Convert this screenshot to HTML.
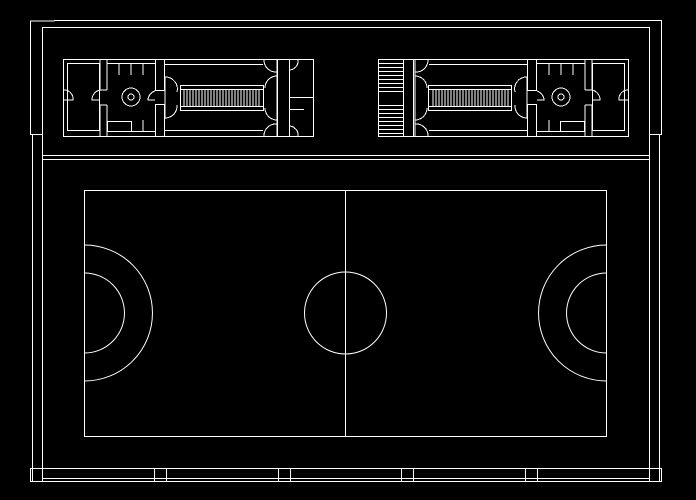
<!DOCTYPE html>
<html><head><meta charset="utf-8"><style>
html,body{margin:0;padding:0;background:#000;width:696px;height:500px;overflow:hidden}
svg{display:block}
</style></head><body>
<svg width="696" height="500" viewBox="0 0 696 500" xmlns="http://www.w3.org/2000/svg" fill="none" stroke="#fff" stroke-width="1" shape-rendering="crispEdges">
<defs>
<g id="plan">
  <!-- outer outline -->
  <rect x="63.5" y="59.5" width="250" height="77"/>
  <!-- toilet -->
  <rect x="67.5" y="63.5" width="32" height="67"/>
  <line x1="100" y1="60" x2="100" y2="90"/><line x1="107" y1="60" x2="107" y2="90"/>
  <line x1="100" y1="105" x2="100" y2="136"/><line x1="107" y1="105" x2="107" y2="136"/>
  <line x1="100" y1="90" x2="107" y2="90"/><line x1="100" y1="105" x2="107" y2="105"/>
  <path d="M63 90 A9 9 0 0 1 73 100 L63 100" stroke-width="1"/>
  <path d="M100 90 A10 10 0 0 0 92 100 L100 100"/>
  <!-- lobby -->
  <line x1="107" y1="63.5" x2="155" y2="63.5"/><line x1="107" y1="131.5" x2="155" y2="131.5"/>
  <line x1="119" y1="64" x2="119" y2="75"/><line x1="131" y1="64" x2="131" y2="75"/><line x1="143" y1="64" x2="143" y2="75"/>
  <rect x="107.5" y="121.5" width="24" height="10"/>
  <line x1="143" y1="120" x2="143" y2="131"/>
  <circle cx="131" cy="97" r="9"/><circle cx="131" cy="97" r="3"/>
  <!-- wall between lobby and stair hall -->
  <rect x="155.5" y="59.5" width="9" height="31"/>
  <rect x="155.5" y="104.5" width="9" height="32"/>
  <path d="M155 91 A10 10 0 0 0 148 100 L155 100"/>
  <path d="M165 77 A12 12 0 0 1 177 92 M165 118 A12 12 0 0 0 177 105"/>
  <line x1="165" y1="77" x2="165" y2="118"/>
  <!-- stair hall walls -->
  <line x1="165" y1="64.5" x2="263" y2="64.5"/>
  <line x1="165" y1="130.5" x2="263" y2="130.5"/>
  <!-- stair -->
  <rect x="180.5" y="85.5" width="83" height="25"/>
  <rect x="180.5" y="89.5" width="83" height="17"/>
  <path d="M184 90v16M187 90v16M190 90v16M193 90v16M196 90v16M199 90v16M202 90v16M205 90v16M208 90v16M211 90v16M214 90v16M217 90v16M220 90v16M223 90v16M226 90v16M229 90v16M232 90v16M235 90v16M238 90v16M241 90v16M244 90v16M247 90v16M250 90v16M253 90v16M256 90v16M259 90v16"/>
  <!-- doors near column -->
  <path d="M264 60 A12 12 0 0 0 277 72 M264 137 A12 12 0 0 1 277 124 M277 76 A12 12 0 0 0 265 88 M277 120 A12 12 0 0 1 265 108"/>
  <line x1="277" y1="59" x2="277" y2="137"/>
</g>
</defs>

<!-- outer frame top -->
<line x1="54" y1="20.5" x2="638" y2="20.5"/>
<line x1="42" y1="27.5" x2="650" y2="27.5"/>
<polyline points="54,20.5 54,21 30.5,21 30.5,134.5 42,134.5"/>
<polyline points="638,20.5 661.5,20.5 661.5,134.5 650,134.5"/>
<line x1="42.5" y1="27" x2="42.5" y2="470"/>
<line x1="649.5" y1="27" x2="649.5" y2="470"/>
<line x1="32.5" y1="134" x2="32.5" y2="482"/>
<line x1="659.5" y1="134" x2="659.5" y2="482"/>
<line x1="42" y1="155.5" x2="650" y2="155.5"/>
<line x1="42" y1="159.5" x2="650" y2="159.5"/>

<!-- floor plans -->
<use href="#plan"/>
<!-- left column part -->
<rect x="277.5" y="59.5" width="12" height="77"/>
<line x1="289" y1="97.5" x2="313" y2="97.5"/>
<line x1="289" y1="109.5" x2="304" y2="109.5"/>
<path d="M289 70 A9 9 0 0 0 298 60 M289 126 A9 9 0 0 1 298 136"/>

<g transform="translate(692,0) scale(-1,1)"><use href="#plan"/></g>
<rect x="403.5" y="59.5" width="10" height="77"/>
<rect x="378.5" y="59.5" width="25" height="77"/>
<path d="M379 63.5h24M379 67.5h24M379 71.5h24M379 75.5h24M379 79.5h24M379 83.5h24M379 87.5h24M379 91.5h24M379 105.5h24M379 109.5h24M379 113.5h24M379 117.5h24M379 121.5h24M379 125.5h24M379 129.5h24M379 133.5h24"/>

<!-- court -->
<rect x="84.5" y="190.5" width="522" height="246"/>
<line x1="345.5" y1="190" x2="345.5" y2="437"/>
<circle cx="345.5" cy="313" r="41" shape-rendering="auto"/>
<path d="M84.5 273 A40 40 0 0 1 84.5 353 M84.5 245 A68 68 0 0 1 84.5 381" shape-rendering="auto"/>
<path d="M606.5 273 A40 40 0 0 0 606.5 353 M606.5 245 A68 68 0 0 0 606.5 381" shape-rendering="auto"/>

<!-- bottom band -->
<line x1="30" y1="468.5" x2="662" y2="468.5"/>
<line x1="42" y1="478.5" x2="650" y2="478.5"/>
<line x1="30" y1="481.5" x2="662" y2="481.5"/>
<rect x="30.5" y="468.5" width="12" height="13"/>
<rect x="154.5" y="468.5" width="12" height="13"/>
<rect x="278.5" y="468.5" width="12" height="13"/>
<rect x="401.5" y="468.5" width="12" height="13"/>
<rect x="525.5" y="468.5" width="12" height="13"/>
<rect x="649.5" y="468.5" width="12" height="13"/>
</svg>
</body></html>
